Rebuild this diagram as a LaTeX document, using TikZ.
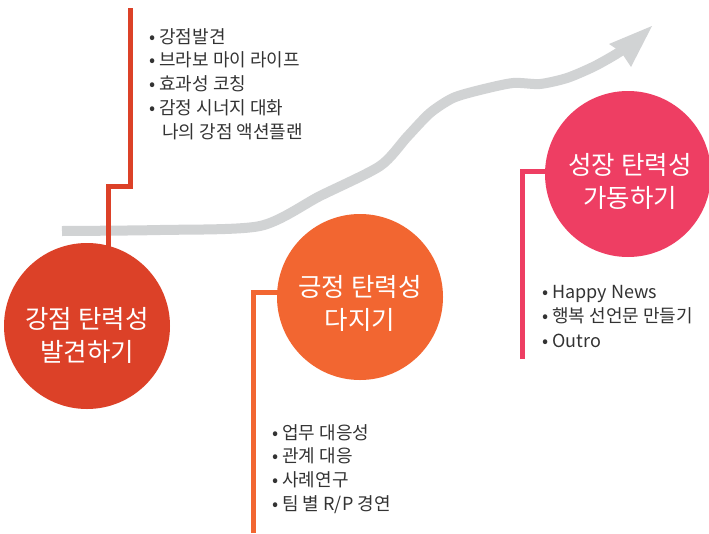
\documentclass[tikz,border=0pt]{standalone}
\usepackage{fontspec}
\setmainfont{Noto Sans CJK KR}
\definecolor{cred}{HTML}{DC4128}
\definecolor{corange}{HTML}{F26631}
\definecolor{cpink}{HTML}{EE3E63}
\definecolor{cgray}{HTML}{D1D3D4}
\definecolor{ctext}{HTML}{333333}
\begin{document}
\begin{tikzpicture}[x=1pt,y=-1pt,
  bubble/.style={circle,minimum size=166pt,inner sep=0pt},
  bubtext/.style={text=white,align=center,font=\fontsize{25.5}{33}\selectfont},
  conn/.style={line width=5pt},
  listtext/.style={anchor=north west,align=left,text=ctext,inner sep=0pt,font=\fontsize{18}{23.8}\selectfont}]
\useasboundingbox (0,0) rectangle (709,533);
% gray growth arrow
\draw[cgray,line width=10pt] plot[smooth,tension=0.45] coordinates {(62,231) (160,230) (260,226) (320,196) (380,166) (407,137) (430,113) (453,98) (480,90) (513,83) (540,84) (567,78) (593,67) (613,56) (624,49)};
\fill[cgray] (652,26) -- (609,44) -- (621,52) -- (631,67) -- cycle;
% circles
\node[bubble] (c1) at (87,326) {};
\node[bubble] (c2) at (360,297) {};
\node[bubble] (c3) at (628,174) {};
% connectors
\coordinate (r1top) at (130,8);
\coordinate (r1step) at (130,186);
\coordinate (o2bot) at (253,533);
\coordinate (p3bot) at (522,359);
\draw[cred,conn] (r1top) -- (r1step) -| ([xshift=21.5pt,yshift=-10pt]c1.north);
\draw[corange,conn] (o2bot) |- ([xshift=6pt,yshift=5pt]c2.west);
\draw[cpink,conn] (p3bot) |- ([xshift=6pt,yshift=3pt]c3.west);
% circle fills on top
\fill[cred] (c1) circle (83);
\fill[corange] (c2) circle (83);
\fill[cpink] (c3) circle (83);
\node[bubtext] (t1) at (87,335) {강점 탄력성\\발견하기};
\node[bubtext] (t2) at (360,303) {긍정 탄력성\\다지기};
\node[bubtext] (t3) at (630,181) {성장 탄력성\\가동하기};
% lists
\node[listtext] (l1) at (149,28) {• 강점발견\\• 브라보 마이 라이프\\• 효과성 코칭\\• 감정 시너지 대화\\\hphantom{• }\hspace*{3pt}나의 강점 액션플랜};
\node[listtext] (l2) at (272,424) {• 업무 대응성\\• 관계 대응\\• 사례연구\\• 팀 별 R/P 경연};
\node[listtext,font=\fontsize{18}{24.5}\selectfont] (l3) at (542,285) {• Happy News\\• 행복 선언문 만들기\\• Outro};
\end{tikzpicture}
\end{document}
